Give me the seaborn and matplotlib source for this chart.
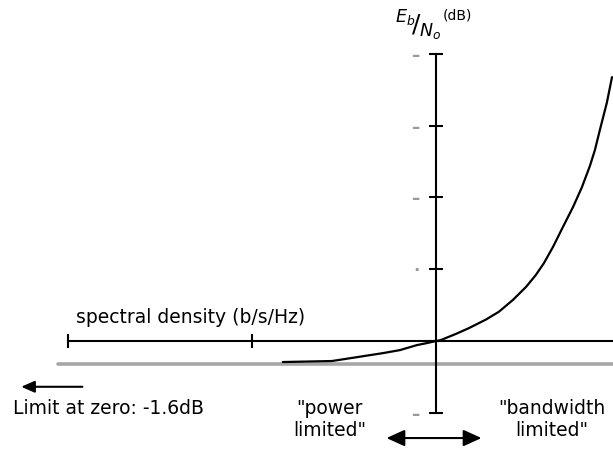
import numpy as np
import pandas as pd
import seaborn as sns
import matplotlib.pyplot as plt

# spectral density r (b/s/Hz) and Eb/No (dB)
spectral_density = [0.147, 0.272, 0.377, 0.515, 0.637, 0.789, 0.893, 1.0,
                    1.064, 1.285, 1.510, 1.871, 2.198, 2.618, 3.083, 3.491,
                    3.864, 4.325, 4.898, 5.559, 6.209, 6.871, 7.311, 7.780,
                    8.492, 9.057]
ebno_db = [-1.46, -1.39, -1.11, -0.84, -0.63, -0.28, -0.14, 0.0,
           0.07, 0.50, 0.90, 1.50, 2.04, 2.86, 3.76, 4.60,
           5.43, 6.55, 7.94, 9.33, 10.70, 12.20, 13.30, 14.70,
           16.60, 18.38]
limit_db = -1.6
y_ticks = [-5, 0, 5, 10, 15, 20]
y_tick_labels = ['–', '', '·', '–', '–', '–']
x_ticks = [0.01, 0.1]

sns.set_style('white')
plt.rcParams['font.family'] = ['DejaVu Sans']
plt.rcParams['text.color'] = 'black'

df = pd.DataFrame({'r': spectral_density, 'db': ebno_db})

fig = plt.figure(figsize=(6.13, 4.66), dpi=100)
ax = fig.add_axes([0, 0, 1, 1])

# Shannon limit line (gray)
ax.axhline(limit_db, xmin=58 / 613, xmax=1, color='#a6a6a6', lw=2.6, zorder=1)

sns.lineplot(data=df, x='r', y='db', color='black', lw=1.6, ax=ax, zorder=3)

ax.set_xscale('log')
ax.set_xlim(0.00427, 9.17)
ax.set_ylim(-8.7, 23.75)

# axes through the origin
for s in ['top', 'right']:
    ax.spines[s].set_visible(False)
ax.spines['left'].set_position(('data', 1))
ax.spines['bottom'].set_position(('data', 0))
ax.spines['left'].set_bounds(-5, 20)
ax.spines['bottom'].set_bounds(0.01, 9.17)
for s in ['left', 'bottom']:
    ax.spines[s].set_linewidth(1.5)
    ax.spines[s].set_color('black')

ax.set_xticks(x_ticks)
ax.set_xticklabels([])
ax.xaxis.set_minor_locator(plt.NullLocator())
ax.set_yticks(y_ticks)
ax.set_yticklabels(y_tick_labels, color='#9a9a9a', fontsize=12, fontweight='bold')
ax.tick_params(axis='both', direction='inout', length=9.5, width=1.5,
               color='black', bottom=True, left=True, pad=7)
ax.set_xlabel('')
ax.set_ylabel('')

# Eb/No (dB) label
ax.text(0.682, 0.945, r'${}^{E_b}\!/{}_{N_o}$', transform=ax.transAxes,
        ha='center', va='center', fontsize=18)
ax.text(0.722, 0.966, '(dB)', transform=ax.transAxes,
        ha='left', va='center', fontsize=10)

ax.text(0.124, 0.318, 'spectral density (b/s/Hz)', transform=ax.transAxes,
        ha='left', va='center', fontsize=13.5)
ax.text(0.022, 0.124, 'Limit at zero: -1.6dB', transform=ax.transAxes,
        ha='left', va='center', fontsize=13.5)
ax.text(0.538, 0.100, '"power\nlimited"', transform=ax.transAxes,
        ha='center', va='center', fontsize=13.5, linespacing=1.25)
ax.text(0.90, 0.100, '"bandwidth\nlimited"', transform=ax.transAxes,
        ha='center', va='center', fontsize=13.5, linespacing=1.25)

ax.annotate('', xy=(0.03, 0.170), xytext=(0.139, 0.170),
            xycoords='axes fraction', textcoords='axes fraction',
            arrowprops=dict(arrowstyle='-|>,head_length=0.8,head_width=0.35',
                            color='black', lw=1.5))
ax.annotate('', xy=(0.626, 0.060), xytext=(0.79, 0.060),
            xycoords='axes fraction', textcoords='axes fraction',
            arrowprops=dict(arrowstyle='<|-|>,head_length=1.1,head_width=0.5',
                            color='black', lw=1.5))

fig.savefig('out.png', dpi=100)
